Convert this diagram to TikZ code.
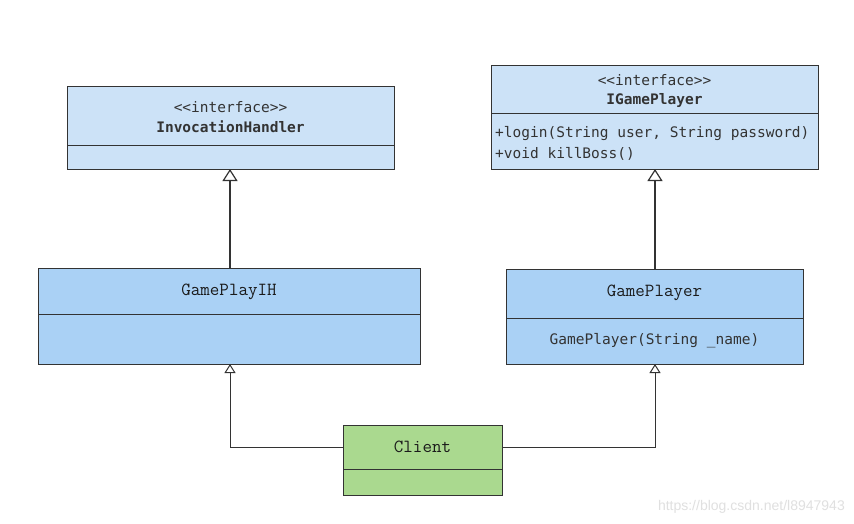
\documentclass[tikz,border=0pt]{standalone}
\usepackage{fontspec}
\setmonofont{DejaVu Sans Mono}
\newfontfamily\clsfont{Latin Modern Mono}
\newfontfamily\wmfont{Liberation Sans}
\usetikzlibrary{arrows.meta}
\definecolor{ifill}{HTML}{CCE2F7}
\definecolor{cfill}{HTML}{AAD1F5}
\definecolor{gfill}{HTML}{AAD98F}
\definecolor{edge}{HTML}{333333}
\definecolor{txt}{HTML}{333333}
\definecolor{ctxt}{HTML}{1A1A1A}
\begin{document}
\begin{tikzpicture}[x=1pt,y=-1pt,
  umlbox/.style={draw=edge, line width=1pt, rectangle, inner sep=0pt, anchor=north west},
  divider/.style={draw=edge, line width=1pt},
  mono/.style={font=\fontsize{14.5}{16}\ttfamily, text=txt, inner sep=0pt},
  monob/.style={font=\fontsize{14.5}{16}\ttfamily\bfseries, text=txt, inner sep=0pt},
  clsname/.style={font=\fontsize{18.5}{20}\clsfont, text=ctxt, inner sep=0pt},
  bigarrow/.style={draw=edge, line width=1.5pt, -{Triangle[open, length=12pt, width=15pt, line width=1.2pt]}},
  smallarrow/.style={draw=edge, line width=1pt, -{Triangle[open, length=9pt, width=11pt, line width=1pt]}}
]
\useasboundingbox (0,0) rectangle (854,524);
\fill[white] (0,0) rectangle (854,524);

% InvocationHandler
\node[umlbox, fill=ifill, minimum width=327pt, minimum height=83pt] (ih) at (67,86) {};
\draw[divider] (67,146) coordinate (ihl) -- (394,146) coordinate (ihr);
\node[mono] (ihs) at (230.5,107) {<<interface>>};
\node[monob] (ihn) at (230.5,127) {InvocationHandler};

% IGamePlayer
\node[umlbox, fill=ifill, minimum width=327pt, minimum height=104pt] (igp) at (491,65) {};
\draw[divider] (491,114) coordinate (igl) -- (818,114) coordinate (igr);
\node[mono] (igs) at (654.5,80) {<<interface>>};
\node[monob] (ign) at (654.5,100) {IGamePlayer};
\node[mono, anchor=west] (igm1) at (495,133.5) {+login(String user, String password)};
\node[mono, anchor=west] (igm2) at (495,153.5) {+void killBoss()};

% GamePlayIH
\node[umlbox, fill=cfill, minimum width=382pt, minimum height=96pt] (gih) at (38,268) {};
\draw[divider] (38,314) coordinate (gil) -- (420,314) coordinate (gir);
\node[clsname] (gihn) at (229,292) {GamePlayIH};

% GamePlayer
\node[umlbox, fill=cfill, minimum width=297pt, minimum height=95pt] (gp) at (506,269) {};
\draw[divider] (506,318) coordinate (gpl) -- (803,318) coordinate (gpr);
\node[clsname] (gpn) at (654.5,293) {GamePlayer};
\node[mono] (gpm) at (654.5,341) {GamePlayer(String \_name)};

% Client
\node[umlbox, fill=gfill, minimum width=159pt, minimum height=70pt] (cl) at (343,425) {};
\draw[divider] (343,469) coordinate (cll) -- (502,469) coordinate (clr);
\node[clsname] (cln) at (422.5,447) {Client};

% generalisation arrows
\draw[bigarrow] (230,268) -- (230,169);
\draw[bigarrow] (655,269) -- (655,169);
\draw[smallarrow] (cl.west |- 0,447) -- (230,447) -- (230,364);
\draw[smallarrow] (cl.east |- 0,447) -- (655,447) -- (655,364);

% watermark
\node[font=\fontsize{14}{16}\wmfont, text=black!12, inner sep=0pt, anchor=east] (wm) at (845,507) {https://blog.csdn.net/l8947943};
\end{tikzpicture}
\end{document}
